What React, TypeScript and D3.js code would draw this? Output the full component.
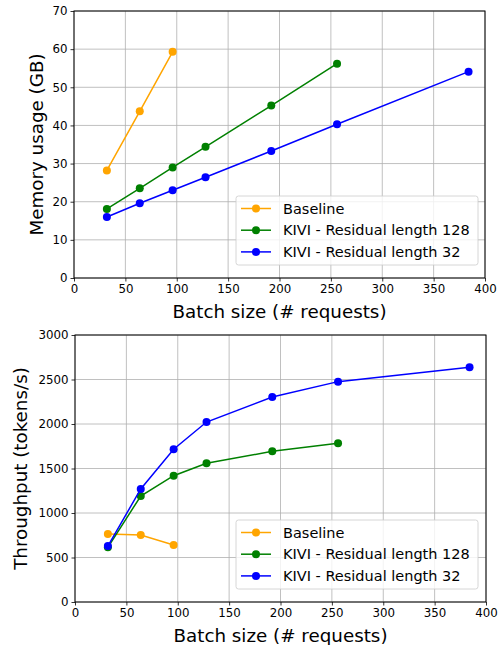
import { useEffect, useRef } from 'react';
import * as d3 from 'd3';

// ── Data ──

const BATCH_BASE = [32, 64, 96];
const BATCH_R128 = [32, 64, 96, 128, 192, 256];
const BATCH_R32 = [32, 64, 96, 128, 192, 256, 384];

const MEM_BASE = [28.2, 43.7, 59.3];
const MEM_R128 = [18.1, 23.5, 29.0, 34.4, 45.2, 56.2];
const MEM_R32 = [16.0, 19.6, 23.0, 26.4, 33.3, 40.3, 54.1];

const TPUT_BASE = [764, 753, 640];
const TPUT_R128 = [614, 1191, 1419, 1558, 1693, 1783];
const TPUT_R32 = [629, 1270, 1716, 2022, 2303, 2476, 2637];

const X_TICKS = [0, 50, 100, 150, 200, 250, 300, 350, 400];
const MEM_TICKS = [0, 10, 20, 30, 40, 50, 60, 70];
const TPUT_TICKS = [0, 500, 1000, 1500, 2000, 2500, 3000];

const SERIES_NAMES = ['Baseline', 'KIVI - Residual length 128', 'KIVI - Residual length 32'];
const SERIES_COLORS = ['#ffa500', '#008000', '#0000ff'];

const W = 498;
const H = 645;
const FONT = '"DejaVu Sans", sans-serif';

interface Panel {
  top: number;
  bottom: number;
  left: number;
  right: number;
  yMax: number;
  yTicks: number[];
  yLabel: string;
  yLabelX: number;
  series: { xs: number[]; ys: number[] }[];
  legend: { x: number; y: number; w: number; h: number };
}

const PANELS: Panel[] = [
  {
    top: 11,
    bottom: 278,
    left: 74,
    right: 485,
    yMax: 70,
    yTicks: MEM_TICKS,
    yLabel: 'Memory usage (GB)',
    yLabelX: 36,
    series: [
      { xs: BATCH_BASE, ys: MEM_BASE },
      { xs: BATCH_R128, ys: MEM_R128 },
      { xs: BATCH_R32, ys: MEM_R32 },
    ],
    legend: { x: 236, y: 196, w: 242, h: 69 },
  },
  {
    top: 335,
    bottom: 602,
    left: 75,
    right: 486,
    yMax: 3000,
    yTicks: TPUT_TICKS,
    yLabel: 'Throughput (tokens/s)',
    yLabelX: 20,
    series: [
      { xs: BATCH_BASE, ys: TPUT_BASE },
      { xs: BATCH_R128, ys: TPUT_R128 },
      { xs: BATCH_R32, ys: TPUT_R32 },
    ],
    legend: { x: 236, y: 520, w: 242, h: 69 },
  },
];

export default function App() {
  const svgRef = useRef<SVGSVGElement>(null);

  useEffect(() => {
    const svgEl = svgRef.current;
    if (!svgEl) return;
    const svg = d3.select(svgEl);
    svg.selectAll('*').remove();

    svg.append('rect').attr('width', W).attr('height', H).attr('fill', '#fff');

    PANELS.forEach((p) => {
      const x = d3.scaleLinear().domain([0, 400]).range([p.left, p.right]);
      const y = d3.scaleLinear().domain([0, p.yMax]).range([p.bottom, p.top]);
      const g = svg.append('g');

      // grid
      g.selectAll('.vgrid')
        .data(X_TICKS)
        .enter()
        .append('line')
        .attr('x1', (d) => x(d))
        .attr('x2', (d) => x(d))
        .attr('y1', p.top)
        .attr('y2', p.bottom)
        .attr('stroke', '#b0b0b0')
        .attr('stroke-width', 0.8);
      g.selectAll('.hgrid')
        .data(p.yTicks)
        .enter()
        .append('line')
        .attr('x1', p.left)
        .attr('x2', p.right)
        .attr('y1', (d) => y(d))
        .attr('y2', (d) => y(d))
        .attr('stroke', '#b0b0b0')
        .attr('stroke-width', 0.8);

      // axes
      const xAxis = g
        .append('g')
        .attr('transform', `translate(0,${p.bottom})`)
        .call(d3.axisBottom(x).tickValues(X_TICKS).tickSize(3.5).tickPadding(3).tickFormat(d3.format('d')));
      const yAxis = g
        .append('g')
        .attr('transform', `translate(${p.left},0)`)
        .call(d3.axisLeft(y).tickValues(p.yTicks).tickSize(3.5).tickPadding(3).tickFormat(d3.format('d')));
      [xAxis, yAxis].forEach((a) => {
        a.select('.domain').remove();
        a.selectAll('text').attr('font-family', FONT).attr('font-size', 11.8).attr('fill', '#000');
        a.selectAll('line').attr('stroke', '#000').attr('stroke-width', 0.8);
      });

      // frame
      g.append('rect')
        .attr('x', p.left)
        .attr('y', p.top)
        .attr('width', p.right - p.left)
        .attr('height', p.bottom - p.top)
        .attr('fill', 'none')
        .attr('stroke', '#000')
        .attr('stroke-width', 1);

      // series
      p.series.forEach((s, i) => {
        const pts = s.xs.map((xv, j) => [xv, s.ys[j]] as [number, number]);
        const line = d3
          .line<[number, number]>()
          .x((d) => x(d[0]))
          .y((d) => y(d[1]));
        g.append('path')
          .attr('d', line(pts))
          .attr('fill', 'none')
          .attr('stroke', SERIES_COLORS[i])
          .attr('stroke-width', 1.5);
        g.selectAll(null)
          .data(pts)
          .enter()
          .append('circle')
          .attr('cx', (d) => x(d[0]))
          .attr('cy', (d) => y(d[1]))
          .attr('r', 4)
          .attr('fill', SERIES_COLORS[i]);
      });

      // labels
      g.append('text')
        .attr('x', (p.left + p.right) / 2)
        .attr('y', p.bottom + 40)
        .attr('text-anchor', 'middle')
        .attr('font-family', FONT)
        .attr('font-size', 18.3)
        .text('Batch size (# requests)');
      g.append('text')
        .attr('transform', `translate(${p.yLabelX},${(p.top + p.bottom) / 2}) rotate(-90)`)
        .attr('text-anchor', 'middle')
        .attr('dominant-baseline', 'central')
        .attr('font-family', FONT)
        .attr('font-size', 18.3)
        .text(p.yLabel);

      // legend
      const L = p.legend;
      const lg = g.append('g');
      lg.append('rect')
        .attr('x', L.x)
        .attr('y', L.y)
        .attr('width', L.w)
        .attr('height', L.h)
        .attr('rx', 2.5)
        .attr('fill', 'rgba(255,255,255,0.8)')
        .attr('stroke', '#cccccc')
        .attr('stroke-width', 0.8);
      SERIES_NAMES.forEach((name, i) => {
        const ry = L.y + 12.5 + i * 21.7;
        lg.append('line')
          .attr('x1', L.x + 5)
          .attr('x2', L.x + 35)
          .attr('y1', ry)
          .attr('y2', ry)
          .attr('stroke', SERIES_COLORS[i])
          .attr('stroke-width', 1.5);
        lg.append('circle')
          .attr('cx', L.x + 20)
          .attr('cy', ry)
          .attr('r', 4)
          .attr('fill', SERIES_COLORS[i]);
        lg.append('text')
          .attr('x', L.x + 47)
          .attr('y', ry)
          .attr('dominant-baseline', 'central')
          .attr('font-family', FONT)
          .attr('font-size', 14.5)
          .text(name);
      });
    });
  }, []);

  return (
    <div style={{ position: 'absolute', left: 0, top: 0, width: W, height: H }}>
      <svg ref={svgRef} width={W} height={H} style={{ display: 'block' }} />
    </div>
  );
}
